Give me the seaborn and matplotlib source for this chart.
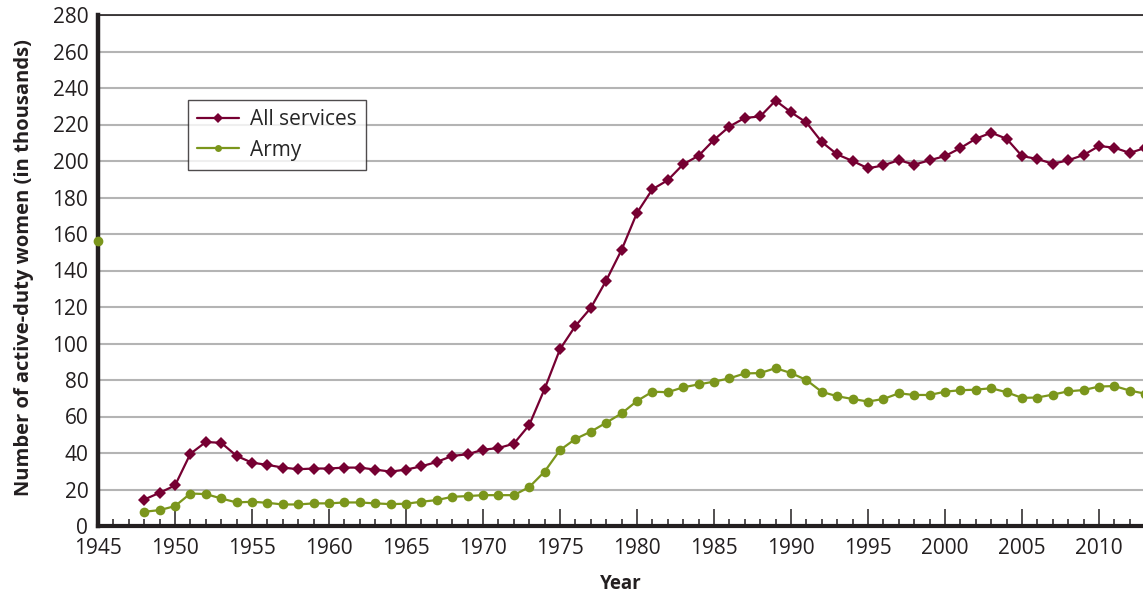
"""
Active-duty women in the US military, all services vs. Army.
"""
import seaborn as sns
import matplotlib.pyplot as plt
import pandas as pd
from matplotlib.ticker import MultipleLocator

# values (thousands)
years = list(range(1948, 2014))
all_services = [14.5, 18.2, 22.2, 39.6, 46.0, 45.6, 38.4, 34.7, 33.5, 32.0,
                31.1, 31.5, 31.5, 32.0, 32.0, 30.9, 29.8, 30.9, 32.7, 35.1,
                38.4, 39.3, 41.8, 42.7, 45.1, 55.3, 75.1, 96.9, 109.6, 119.5,
                134.5, 151.3, 171.6, 184.5, 189.5, 198.2, 202.9, 211.6, 218.9, 223.6,
                224.4, 233.1, 226.7, 221.1, 210.4, 203.6, 200.0, 196.0, 197.6, 200.5,
                198.0, 200.4, 202.7, 207.1, 212.2, 215.5, 212.2, 202.7, 201.1, 198.5,
                200.4, 203.3, 208.2, 207.3, 204.4, 207.2]
army = [7.8, 8.7, 10.9, 17.8, 17.5, 15.1, 12.9, 13.3, 12.7, 11.8,
        11.8, 12.4, 12.4, 12.9, 12.9, 12.4, 12.0, 12.2, 13.3, 14.2,
        16.0, 16.4, 16.9, 16.9, 16.9, 21.3, 29.8, 41.6, 47.7, 51.7,
        56.6, 61.7, 68.5, 73.6, 73.3, 76.0, 77.6, 79.1, 80.9, 83.6,
        83.8, 86.5, 83.8, 80.0, 73.5, 71.1, 69.6, 68.2, 69.6, 72.7,
        71.8, 71.8, 73.6, 74.4, 74.7, 75.5, 73.3, 70.2, 70.4, 72.0,
        73.8, 74.5, 76.4, 76.7, 74.2, 72.5]
# lone Army point drawn on the 1945 axis line
army_1945_year = [1945]
army_1945_value = [156]

maroon = "#760032"
olive = "#7b961c"
ink = "#231f20"

df = pd.DataFrame({"Year": years, "All services": all_services, "Army": army})

sns.set_style("white")
plt.rcParams['font.family'] = ['Open Sans', 'DejaVu Sans']

fig = plt.figure(figsize=(11.43, 5.96), dpi=100)
ax = fig.add_axes([98 / 1143, 1 - 526 / 596, 1045 / 1143, 511 / 596])

sns.lineplot(data=df, x="Year", y="All services", ax=ax, color=maroon,
             marker="D", markersize=6.5, markeredgewidth=0, linewidth=1.6,
             label="All services", zorder=4)
sns.lineplot(data=df, x="Year", y="Army", ax=ax, color=olive,
             marker="o", markersize=7, markeredgewidth=0, linewidth=1.6,
             label="Army", zorder=4)
ax.plot(army_1945_year, army_1945_value, marker="o", markersize=6,
        color=olive, linestyle="none", clip_on=False, zorder=5)

ax.set_xlim(1945, 1945 + 1045 / 15.4)
ax.set_ylim(0, 280)
ax.yaxis.set_major_locator(MultipleLocator(20))
ax.xaxis.set_major_locator(MultipleLocator(5))
ax.xaxis.set_minor_locator(MultipleLocator(1))

ax.grid(axis="y", color="#b4b4b4", linewidth=1.5)
ax.grid(axis="x", visible=False)
ax.set_axisbelow(True)

for side in ["left", "bottom", "top", "right"]:
    ax.spines[side].set_color(ink)
ax.spines["left"].set_linewidth(3.2)
ax.spines["bottom"].set_linewidth(3.0)
ax.spines["top"].set_linewidth(1.2)
ax.spines["right"].set_visible(False)

ax.tick_params(axis="x", which="major", direction="in", length=12, width=1.1,
               color=ink, labelsize=15, pad=9, bottom=True)
ax.tick_params(axis="x", which="minor", direction="in", length=5, width=1.1,
               color=ink, bottom=True)
ax.tick_params(axis="y", length=0, labelsize=15, pad=7)
for lab in ax.get_xticklabels() + ax.get_yticklabels():
    lab.set_color(ink)

ax.set_xlabel("Year", fontsize=13.5, fontweight="bold", color=ink)
ax.set_ylabel("Number of active-duty women (in thousands)", fontsize=14.5,
              fontweight="bold", color=ink)
ax.xaxis.set_label_coords(0.5, (526 - 574) / 511)
ax.yaxis.set_label_coords((34 - 98) / 1045, 0.505)

leg = ax.legend(loc="upper left", bbox_to_anchor=(0.086, 0.834), fontsize=15,
                frameon=True, fancybox=False, edgecolor=ink, borderaxespad=0,
                handlelength=2.0, borderpad=0.45, labelspacing=0.45, handletextpad=0.55)
leg.get_frame().set_linewidth(1.0)
for h in leg.get_lines():
    h.set_markersize(5)

fig.savefig("out.png", dpi=100)
